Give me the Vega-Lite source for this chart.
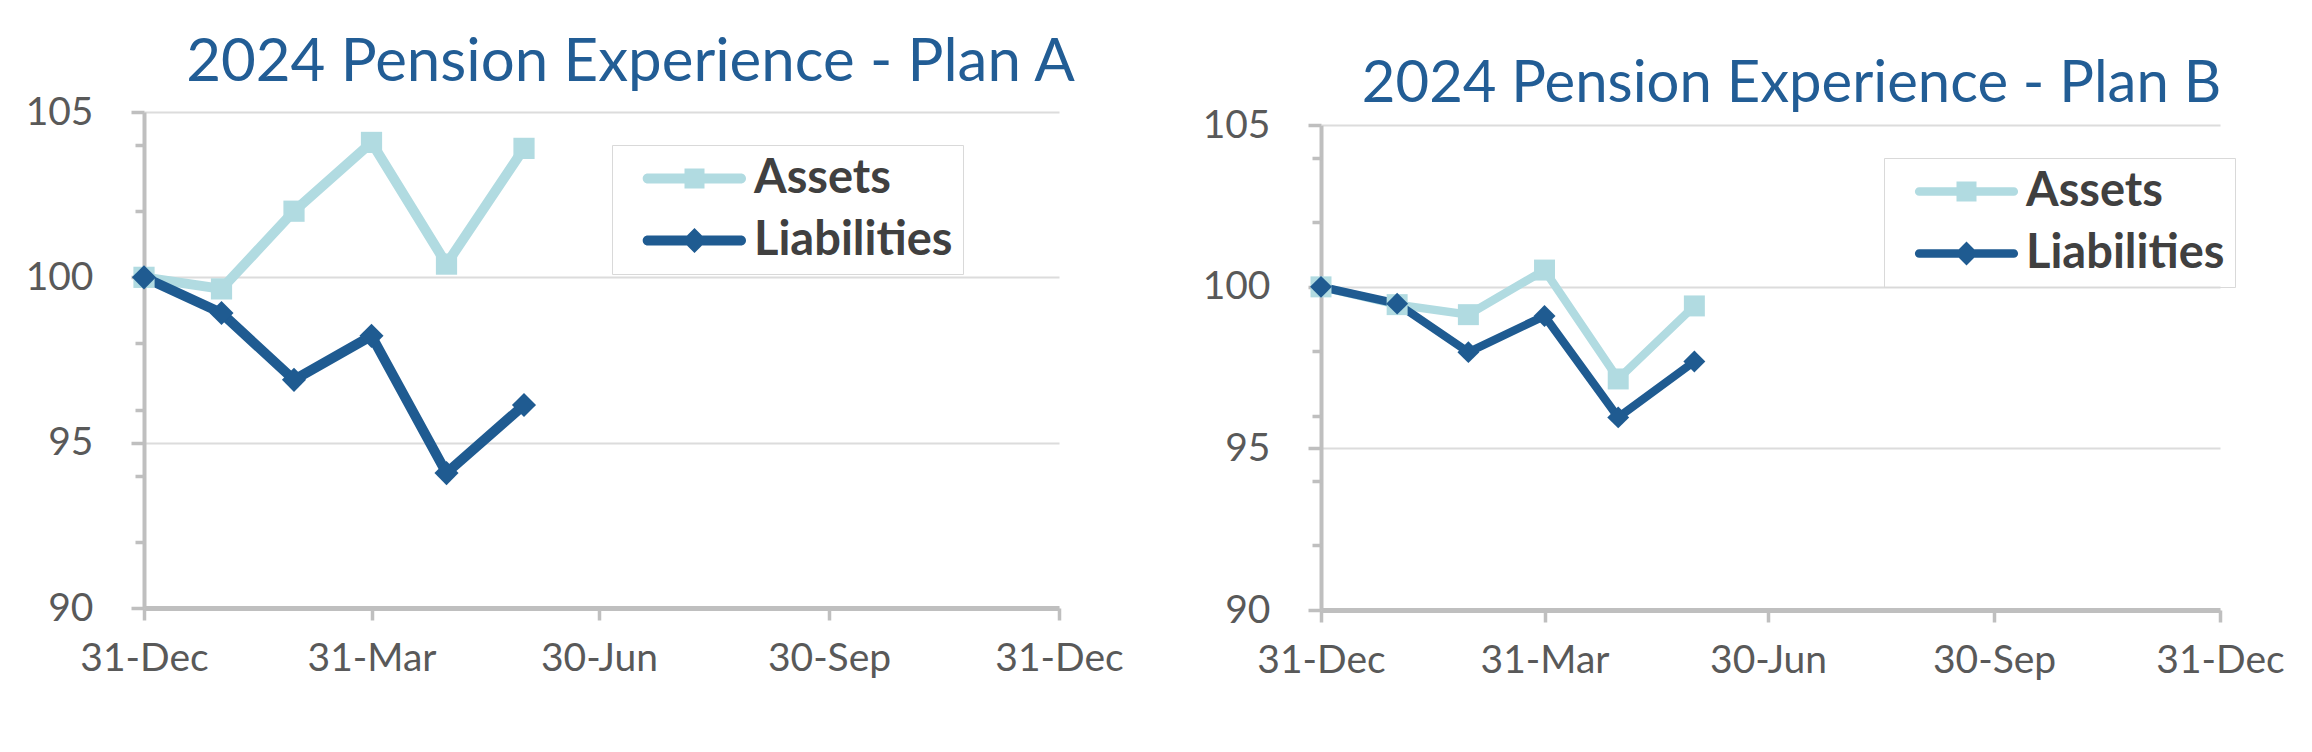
{
  "$schema": "https://vega.github.io/schema/vega-lite/v6.json",
  "background": "white",
  "padding": {"left": 25, "top": 33, "right": 5, "bottom": 5},
  "config": {
    "view": {"stroke": null},
    "font": "Lato",
    "axis": {"labelFont": "Lato", "labelColor": "#595959", "labelFontSize": 39, "domainColor": "#bfbfbf", "tickColor": "#bfbfbf", "gridColor": "#dcdcdc", "gridWidth": 2, "title": null}
  },
  "data": {
    "format": {"parse": {"date": "date:'%Y-%m-%d'"}},
    "values": [
      {"plan": "A", "series": "Assets", "date": "2023-12-31", "value": 100},
      {"plan": "A", "series": "Assets", "date": "2024-01-31", "value": 99.65},
      {"plan": "A", "series": "Assets", "date": "2024-02-29", "value": 102.0},
      {"plan": "A", "series": "Assets", "date": "2024-03-31", "value": 104.08},
      {"plan": "A", "series": "Assets", "date": "2024-04-30", "value": 100.4},
      {"plan": "A", "series": "Assets", "date": "2024-05-31", "value": 103.9},
      {"plan": "A", "series": "Liabilities", "date": "2023-12-31", "value": 100},
      {"plan": "A", "series": "Liabilities", "date": "2024-01-31", "value": 98.92},
      {"plan": "A", "series": "Liabilities", "date": "2024-02-29", "value": 96.9},
      {"plan": "A", "series": "Liabilities", "date": "2024-03-31", "value": 98.23},
      {"plan": "A", "series": "Liabilities", "date": "2024-04-30", "value": 94.08},
      {"plan": "A", "series": "Liabilities", "date": "2024-05-31", "value": 96.14},
      {"plan": "B", "series": "Assets", "date": "2023-12-31", "value": 100},
      {"plan": "B", "series": "Assets", "date": "2024-01-31", "value": 99.45},
      {"plan": "B", "series": "Assets", "date": "2024-02-29", "value": 99.14},
      {"plan": "B", "series": "Assets", "date": "2024-03-31", "value": 100.52},
      {"plan": "B", "series": "Assets", "date": "2024-04-30", "value": 97.15},
      {"plan": "B", "series": "Assets", "date": "2024-05-31", "value": 99.41},
      {"plan": "B", "series": "Liabilities", "date": "2023-12-31", "value": 100},
      {"plan": "B", "series": "Liabilities", "date": "2024-01-31", "value": 99.48},
      {"plan": "B", "series": "Liabilities", "date": "2024-02-29", "value": 97.98},
      {"plan": "B", "series": "Liabilities", "date": "2024-03-31", "value": 99.1},
      {"plan": "B", "series": "Liabilities", "date": "2024-04-30", "value": 95.96},
      {"plan": "B", "series": "Liabilities", "date": "2024-05-31", "value": 97.69}
    ]
  },
  "spacing": 262,
  "bounds": "flush",
  "resolve": {"scale": {"color": "independent", "shape": "independent"}, "legend": {"color": "independent", "shape": "independent"}},
  "hconcat": [
    {
      "width": 915,
      "height": 496,
      "transform": [{"filter": "datum.plan === 'A'"}],
      "title": {"text": "2024 Pension Experience - Plan A", "font": "Lato", "fontSize": 60, "fontWeight": "normal", "color": "#225d95", "anchor": "middle", "frame": "group", "dx": 29, "offset": -48, "baseline": "alphabetic"},
      "encoding": {
        "x": {"field": "date", "type": "temporal",
          "scale": {"domain": [{"year": 2023, "month": 12, "date": 31}, {"year": 2024, "month": 12, "date": 31}]},
          "axis": {"values": [{"year": 2023, "month": 12, "date": 31}, {"year": 2024, "month": 3, "date": 31}, {"year": 2024, "month": 6, "date": 30}, {"year": 2024, "month": 9, "date": 30}, {"year": 2024, "month": 12, "date": 31}],
            "format": "%d-%b", "grid": false, "domainWidth": 5, "tickWidth": 3.5, "tickSize": 12, "labelPadding": 19, "labelFlush": false}},
        "color": {"field": "series", "type": "nominal",
          "scale": {"domain": ["Assets", "Liabilities"], "range": ["#b1dbe1", "#1f5b91"]},
          "legend": {"orient": "none", "legendX": 468, "legendY": 33, "title": null, "padding": 10, "rowPadding": 14,
            "labelFont": "Lato", "labelFontWeight": "bold", "labelFontSize": 47, "labelColor": "#404040", "labelOffset": 85, "labelLimit": 600,
            "symbolSize": 400, "symbolStrokeWidth": 0, "symbolOpacity": 1, "strokeColor": "#d9d9d9"}}
      },
      "layer": [
        {
          "mark": {"type": "line", "strokeWidth": 10, "strokeJoin": "round", "strokeCap": "round"},
          "encoding": {
            "y": {"field": "value", "type": "quantitative", "scale": {"domain": [90, 105], "zero": false, "nice": false},
              "axis": {"orient": "left", "values": [90, 95, 100, 105], "grid": true, "domainWidth": 4, "tickWidth": 3.5, "tickSize": 13, "labelPadding": 38}}
          }
        },
        {
          "mark": {"type": "point", "filled": true, "opacity": 1, "strokeWidth": 0},
          "encoding": {
            "y": {"field": "value", "type": "quantitative", "scale": {"domain": [90, 105], "zero": false, "nice": false}, "axis": null},
            "shape": {"condition": {"test": "datum.series === 'Assets'", "value": "square"}, "value": "diamond"},
            "size": {"condition": {"test": "datum.series === 'Assets'", "value": 450}, "value": 580}
          }
        },
        {
          "mark": {"type": "point", "filled": true, "fillOpacity": 0, "strokeOpacity": 0, "size": 400, "strokeWidth": 0},
          "encoding": {
            "y": {"field": "value", "type": "quantitative", "scale": {"domain": [90, 105], "zero": false, "nice": false},
              "axis": {"orient": "left", "values": [92, 94, 96, 98, 102, 104], "grid": false, "labels": false, "domain": false, "tickWidth": 3.5, "tickSize": 9}},
            "shape": {"field": "series", "type": "nominal",
              "scale": {"domain": ["Assets", "Liabilities"], "range": [
                "M0.22,-0.5H3.9V-1H5.9V-0.5H9.55A0.5,0.5 0 0 1 9.55,0.5H5.9V1H3.9V0.5H0.22A0.5,0.5 0 0 1 0.22,-0.5Z",
                "M0.22,-0.5H4.15L4.9,-1.25L5.65,-0.5H9.55A0.5,0.5 0 0 1 9.55,0.5H5.65L4.9,1.25L4.15,0.5H0.22A0.5,0.5 0 0 1 0.22,-0.5Z"]}}
          }
        }
      ],
      "resolve": {"axis": {"y": "independent"}}
    },
    {
      "width": 899,
      "height": 498,
      "transform": [{"filter": "datum.plan === 'B'"}],
      "title": {"text": "2024 Pension Experience - Plan B", "font": "Lato", "fontSize": 58, "fontWeight": "normal", "color": "#225d95", "anchor": "middle", "frame": "group", "dx": 21, "offset": -54, "baseline": "alphabetic"},
      "encoding": {
        "x": {"field": "date", "type": "temporal",
          "scale": {"domain": [{"year": 2023, "month": 12, "date": 31}, {"year": 2024, "month": 12, "date": 31}]},
          "axis": {"values": [{"year": 2023, "month": 12, "date": 31}, {"year": 2024, "month": 3, "date": 31}, {"year": 2024, "month": 6, "date": 30}, {"year": 2024, "month": 9, "date": 30}, {"year": 2024, "month": 12, "date": 31}],
            "format": "%d-%b", "grid": false, "domainWidth": 5, "tickWidth": 3.5, "tickSize": 12, "labelPadding": 19, "labelFlush": false}},
        "color": {"field": "series", "type": "nominal",
          "scale": {"domain": ["Assets", "Liabilities"], "range": ["#b1dbe1", "#1f5b91"]},
          "legend": {"orient": "none", "legendX": 563, "legendY": 46, "title": null, "padding": 10, "rowPadding": 14,
            "labelFont": "Lato", "labelFontWeight": "bold", "labelFontSize": 47, "labelColor": "#404040", "labelOffset": 85, "labelLimit": 600,
            "symbolSize": 400, "symbolStrokeWidth": 0, "symbolOpacity": 1, "strokeColor": "#d9d9d9"}}
      },
      "layer": [
        {
          "mark": {"type": "line", "strokeWidth": 8.3, "strokeJoin": "round", "strokeCap": "round"},
          "encoding": {
            "y": {"field": "value", "type": "quantitative", "scale": {"domain": [90, 105], "zero": false, "nice": false, "range": [498, 13.3]},
              "axis": {"orient": "left", "values": [90, 95, 100, 105], "grid": true, "domainWidth": 4, "tickWidth": 3.5, "tickSize": 13, "labelPadding": 38}}
          }
        },
        {
          "mark": {"type": "point", "filled": true, "opacity": 1, "strokeWidth": 0},
          "encoding": {
            "y": {"field": "value", "type": "quantitative", "scale": {"domain": [90, 105], "zero": false, "nice": false, "range": [498, 13.3]}, "axis": null},
            "shape": {"condition": {"test": "datum.series === 'Assets'", "value": "square"}, "value": "diamond"},
            "size": {"condition": {"test": "datum.series === 'Assets'", "value": 440}, "value": 480}
          }
        },
        {
          "mark": {"type": "point", "filled": true, "fillOpacity": 0, "strokeOpacity": 0, "size": 400, "strokeWidth": 0},
          "encoding": {
            "y": {"field": "value", "type": "quantitative", "scale": {"domain": [90, 105], "zero": false, "nice": false, "range": [498, 13.3]},
              "axis": {"orient": "left", "values": [92, 94, 96, 98, 102, 104], "grid": false, "labels": false, "domain": false, "tickWidth": 3.5, "tickSize": 9}},
            "shape": {"field": "series", "type": "nominal",
              "scale": {"domain": ["Assets", "Liabilities"], "range": [
                "M0.17,-0.43H3.9V-1H5.9V-0.43H9.63A0.43,0.43 0 0 1 9.63,0.43H5.9V1H3.9V0.43H0.17A0.43,0.43 0 0 1 0.17,-0.43Z",
                "M0.17,-0.43H4.13L4.9,-1.2L5.67,-0.43H9.63A0.43,0.43 0 0 1 9.63,0.43H5.67L4.9,1.2L4.13,0.43H0.17A0.43,0.43 0 0 1 0.17,-0.43Z"]}}
          }
        }
      ],
      "resolve": {"axis": {"y": "independent"}}
    }
  ]
}
